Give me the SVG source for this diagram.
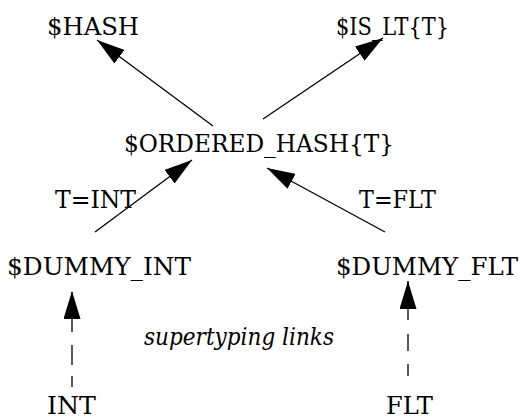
<svg xmlns="http://www.w3.org/2000/svg" width="519" height="419" viewBox="0 0 519 419">
  <style>
    text { font-family: "DejaVu Serif", serif; font-size: 24px; fill: #000; }
    .note { font-style: italic; }
    .edge { stroke: #000; stroke-width: 1.3; fill: none; }
  </style>
  <defs>
    <!-- filled triangular arrowhead, tip at the line end -->
    <marker id="head" markerUnits="userSpaceOnUse" markerWidth="28" markerHeight="17" refX="28" refY="8.5" orient="auto">
      <path d="M0,0 L28,8.5 L0,17 Z" fill="#000"/>
    </marker>
  </defs>
  <rect width="519" height="419" fill="#fff"/>

  <g id="connectors">
    <line class="edge" x1="213" y1="126" x2="97" y2="40" marker-end="url(#head)"/>
    <line class="edge" x1="263" y1="119" x2="383" y2="38" marker-end="url(#head)"/>
    <line class="edge" x1="95" y1="232" x2="192" y2="160" marker-end="url(#head)"/>
    <line class="edge" x1="385" y1="232" x2="267" y2="168" marker-end="url(#head)"/>
    <!-- dashed supertyping links -->
    <line class="edge" x1="72" y1="387" x2="72" y2="291" marker-end="url(#head)" stroke-dasharray="11 11 20 13 40"/>
    <line class="edge" x1="408" y1="376" x2="408" y2="281" marker-end="url(#head)" stroke-dasharray="12 13 17 14 40"/>
  </g>

  <g id="hash"><text x="47" y="35" textLength="92" lengthAdjust="spacingAndGlyphs">$HASH</text></g>
  <g id="is_lt"><text x="336" y="35" textLength="113" lengthAdjust="spacingAndGlyphs">$IS_LT{T}</text></g>
  <g id="ordered_hash"><text x="124" y="152" textLength="270" lengthAdjust="spacingAndGlyphs">$ORDERED_HASH{T}</text></g>
  <g id="label_t_int"><text x="55" y="208" textLength="81" lengthAdjust="spacingAndGlyphs">T=INT</text></g>
  <g id="label_t_flt"><text x="359" y="208" textLength="77" lengthAdjust="spacingAndGlyphs">T=FLT</text></g>
  <g id="dummy_int"><text x="7" y="275" textLength="184" lengthAdjust="spacingAndGlyphs">$DUMMY_INT</text></g>
  <g id="dummy_flt"><text x="336" y="275" textLength="182" lengthAdjust="spacingAndGlyphs">$DUMMY_FLT</text></g>
  <g id="note"><text class="note" x="144" y="345" textLength="190" lengthAdjust="spacingAndGlyphs">supertyping links</text></g>
  <g id="int"><text x="47" y="414" textLength="49" lengthAdjust="spacingAndGlyphs">INT</text></g>
  <g id="flt"><text x="386" y="414" textLength="47" lengthAdjust="spacingAndGlyphs">FLT</text></g>
</svg>
